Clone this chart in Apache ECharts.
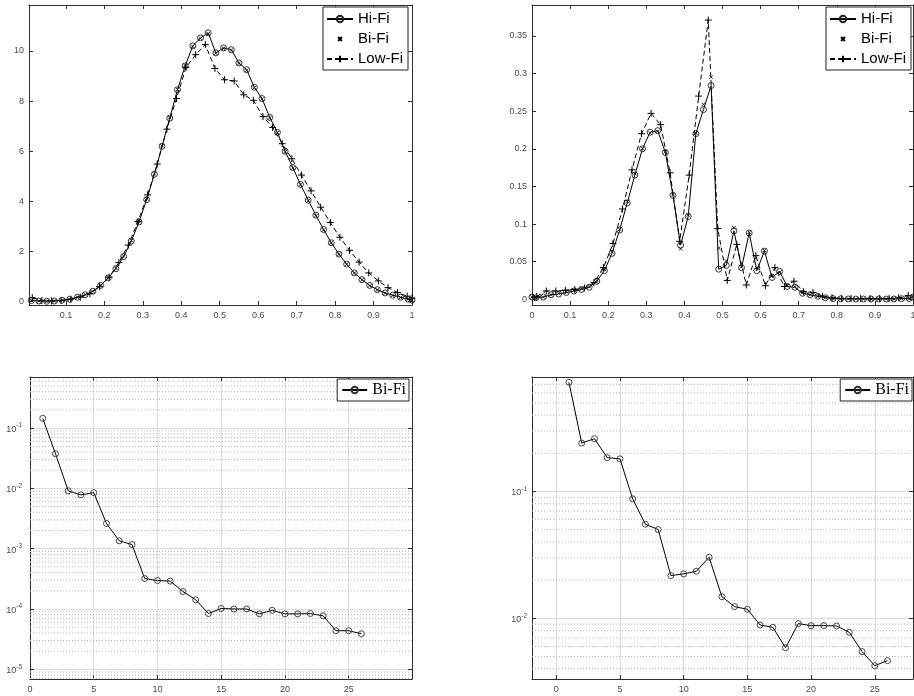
<!DOCTYPE html>
<html><head><meta charset="utf-8">
<script src="https://cdn.jsdelivr.net/npm/echarts@6/dist/echarts.min.js"></script>
<style>html,body{margin:0;padding:0;background:#fff}#c{width:914px;height:696px}</style>
</head><body><div id="c"></div>
<script>
// ---------- data: top-left panel ----------
const hiX_TL = [0.01,0.03,0.05,0.07,0.09,0.11,0.13,0.15,0.17,0.19,0.21,0.23,0.25,0.27,0.29,0.31,0.33,0.35,0.37,0.39,0.41,0.43,0.45,0.47,0.49,0.51,0.53,0.55,0.57,0.59,0.61,0.63,0.65,0.67,0.69,0.71,0.73,0.75,0.77,0.79,0.81,0.83,0.85,0.87,0.89,0.91,0.93,0.95,0.97,0.99,1.0];
const hiY_TL = [0.05,0.03,0.02,0.03,0.06,0.1,0.18,0.28,0.42,0.65,0.95,1.32,1.8,2.42,3.18,4.07,5.08,6.2,7.32,8.45,9.4,10.2,10.52,10.72,9.92,10.12,10.05,9.52,9.25,8.55,8.1,7.35,6.75,6.0,5.35,4.68,4.05,3.45,2.88,2.35,1.9,1.5,1.15,0.88,0.65,0.48,0.35,0.26,0.18,0.1,0.06];
const biY_TL = [0.05,0.03,0.02,0.03,0.06,0.1,0.18,0.28,0.42,0.66,0.96,1.33,1.82,2.44,3.2,4.1,5.1,6.22,7.34,8.47,9.42,10.18,10.5,10.68,9.9,10.1,10.03,9.5,9.22,8.53,8.08,7.33,6.73,5.98,5.33,4.66,4.03,3.43,2.86,2.34,1.89,1.49,1.14,0.87,0.64,0.47,0.34,0.25,0.17,0.1,0.06];
const lowX_TL = [0.0125,0.0375,0.0625,0.0875,0.1125,0.1375,0.1625,0.1875,0.2125,0.2375,0.2625,0.2875,0.3125,0.3375,0.3625,0.3875,0.4125,0.4375,0.4625,0.4875,0.5125,0.5375,0.5625,0.5875,0.6125,0.6375,0.6625,0.6875,0.7125,0.7375,0.7625,0.7875,0.8125,0.8375,0.8625,0.8875,0.9125,0.9375,0.9625,0.9875,1.0];
const lowY_TL = [0.16,0.05,0.03,0.05,0.1,0.18,0.32,0.6,0.98,1.56,2.26,3.2,4.26,5.49,6.88,8.1,9.35,9.85,10.25,9.3,8.85,8.8,8.25,8.03,7.38,6.95,6.3,5.7,5.05,4.42,3.77,3.16,2.57,2.05,1.58,1.15,0.83,0.56,0.37,0.22,0.15];

// ---------- data: top-right panel ----------
const hiX_TR = [0,0.01,0.03,0.05,0.07,0.09,0.11,0.13,0.15,0.17,0.19,0.21,0.23,0.25,0.27,0.29,0.31,0.33,0.35,0.37,0.39,0.41,0.43,0.45,0.47,0.49,0.51,0.53,0.55,0.57,0.59,0.61,0.63,0.65,0.67,0.69,0.71,0.73,0.75,0.77,0.79,0.81,0.83,0.85,0.87,0.89,0.91,0.93,0.95,0.97,0.99,1.0];
const hiY_TR = [0.003,0.002,0.003,0.006,0.007,0.009,0.011,0.013,0.016,0.024,0.038,0.061,0.092,0.128,0.165,0.2,0.222,0.224,0.195,0.138,0.072,0.11,0.22,0.252,0.284,0.04,0.045,0.091,0.042,0.088,0.038,0.064,0.029,0.037,0.017,0.016,0.008,0.006,0.004,0.002,0.001,0.0006,0.0004,0.0003,0.0003,0.0003,0.0003,0.0003,0.0004,0.0008,0.001,0.003];
const biY_TR = [0.003,0.002,0.003,0.006,0.008,0.01,0.012,0.014,0.017,0.025,0.04,0.063,0.093,0.13,0.167,0.2,0.221,0.223,0.196,0.139,0.067,0.112,0.221,0.259,0.295,0.068,0.051,0.095,0.043,0.089,0.042,0.065,0.031,0.036,0.018,0.017,0.009,0.006,0.004,0.002,0.001,0.0006,0.0004,0.0003,0.0003,0.0003,0.0003,0.0003,0.0004,0.0008,0.001,0.004];
const lowX_TR = [0.0125,0.0375,0.0625,0.0875,0.1125,0.1375,0.1625,0.1875,0.2125,0.2375,0.2625,0.2875,0.3125,0.3375,0.3625,0.3875,0.4125,0.4375,0.4625,0.4875,0.5125,0.5375,0.5625,0.5875,0.6125,0.6375,0.6625,0.6875,0.7125,0.7375,0.7625,0.7875,0.8125,0.8375,0.8625,0.8875,0.9125,0.9375,0.9625,0.9875];
const lowY_TR = [0.004,0.011,0.011,0.012,0.013,0.015,0.022,0.042,0.074,0.12,0.172,0.22,0.247,0.232,0.168,0.077,0.165,0.27,0.371,0.094,0.025,0.073,0.019,0.058,0.018,0.042,0.017,0.024,0.01,0.009,0.004,0.002,0.001,0.001,0.001,0.001,0.001,0.001,0.002,0.005];

// ---------- data: bottom panels ----------
const iterX = [1,2,3,4,5,6,7,8,9,10,11,12,13,14,15,16,17,18,19,20,21,22,23,24,25,26];
const errY_BL = [0.145,0.0375,0.0091,0.0078,0.0085,0.00262,0.00135,0.00117,0.00032,0.000296,0.00029,0.000195,0.000142,0.000084,0.000102,0.0001,0.0001,0.000083,0.000095,0.000083,0.000083,0.000084,0.000077,0.0000436,0.0000436,0.0000388];
const errY_BR = [0.727,0.241,0.261,0.185,0.181,0.0875,0.0552,0.0501,0.0217,0.0224,0.0235,0.0303,0.0148,0.01235,0.01178,0.00885,0.00849,0.00586,0.00908,0.00875,0.00875,0.0087,0.00775,0.00546,0.00423,0.00464];

// ---------- legend labels ----------
const legendTop = ['Hi-Fi','Bi-Fi','Low-Fi'];
const legendBottom = 'Bi-Fi';

function pairs(xs, ys){ return xs.map((x,i)=>[x, ys[i]]); }

const FONT = 'Liberation Sans';
const AX = '#2e2e2e';
const LBL = '#4a4a4a';
const SYM_CIRCLE = 'path://M0,5A5,5 0 1,1 10,5A5,5 0 1,1 0,5Z';
const SYM_CROSS = 'path://M0,0M10,10M2,2L8,8M8,2L2,8';
const SYM_PLUS = 'path://M5,0L5,10M0,5L10,5';

const grid = [
  {left:29, top:5, width:383, height:300},
  {left:532, top:5, width:381, height:300},
  {left:30, top:377, width:382, height:302},
  {left:532, top:377, width:381, height:302}
].map(g => Object.assign(g, {containLabel:false, outerBoundsMode:'none', show:false}));

const xAxis = [], yAxis = [];
function fmtStep(step){
  return v => { const r = Math.round(v/step); if (Math.abs(v/step - r) > 1e-6) return ''; return String(+(r*step).toFixed(4)); };
}
function fmtLog(v){
  const e = Math.log10(v); const r = Math.round(e);
  if (Math.abs(e - r) > 1e-6) return '';
  return '{b|10}{s|' + r + '}';
}
const gridLine = {show:true, lineStyle:{color:'#dcdcdc', width:1}};
function addAxes(list, dim, gi, cfg){
  const idx = list.length;
  const base = {
    type: cfg.type || 'value', gridIndex: gi, min: cfg.min, max: cfg.max,
    splitNumber: cfg.split, logBase: 10,
    axisLine: {show:true, onZero:false, lineStyle:{color:AX, width:1}},
    axisTick: {show:true, inside:true, length:4, lineStyle:{color:AX, width:1}},
    minorTick: {show:false}, minorSplitLine:{show:false},
    silent: true
  };
  const lbl = {show:true, color:LBL, fontFamily:FONT, fontSize:9, margin: cfg.margin,
               showMinLabel:true, showMaxLabel:true, formatter: cfg.fmt, hideOverlap:false,
               rich: {b:{fontSize:9, fontFamily:FONT, color:LBL, verticalAlign:'bottom'},
                      s:{fontSize:6.5, fontFamily:FONT, color:LBL, verticalAlign:'bottom', padding:[0,0,5,0]}}};
  list.push(Object.assign({}, base, {position: dim==='x'?'bottom':'left', axisLabel: lbl,
     splitLine: cfg.grid ? gridLine : {show:false}}));
  list.push(Object.assign({}, base, {position: dim==='x'?'top':'right', axisLabel:{show:false}, splitLine:{show:false}}));
  return idx;
}

const xTL = addAxes(xAxis,'x',0,{min:0.004,max:1,split:10,fmt:fmtStep(0.1),margin:6});
const yTL = addAxes(yAxis,'y',0,{min:-0.13,max:11.83,split:6,fmt:fmtStep(2),margin:5});
const xTR = addAxes(xAxis,'x',1,{min:0,max:1,split:10,fmt:fmtStep(0.1),margin:6});
const yTR = addAxes(yAxis,'y',1,{min:-0.0076,max:0.391,split:8,fmt:fmtStep(0.05),margin:5});
const xBL = addAxes(xAxis,'x',2,{min:0,max:29.97,split:6,fmt:fmtStep(5),margin:6,grid:true});
const yBL = addAxes(yAxis,'y',2,{type:'log',min:6.9e-6,max:0.703,fmt:fmtLog,margin:8,grid:true});
const xBR = addAxes(xAxis,'x',3,{min:-1.9,max:28,split:6,fmt:fmtStep(5),margin:6,grid:true});
const yBR = addAxes(yAxis,'y',3,{type:'log',min:0.00332,max:0.80,fmt:fmtLog,margin:5,grid:true});

// minor dotted grid at 2..9 x 10^k, drawn as broken line series through the axes
function minorGrid(xi, yi, x0, x1, lo, hi){
  const d = [];
  for (let e = Math.floor(Math.log10(lo)); e <= Math.ceil(Math.log10(hi)); e++)
    for (let m = 2; m <= 9; m++){
      const v = m*Math.pow(10,e);
      if (v > lo*1.01 && v < hi*0.99){ d.push([x0,v],[x1,v],[x0,'-']); }
    }
  return {type:'line', name:'minor'+xi, xAxisIndex:xi, yAxisIndex:yi, data:d, z:1, silent:true,
    animation:false, symbol:'none', connectNulls:false, clip:true,
    lineStyle:{type:[1,2], color:'#b4b4b4', width:1}};
}

const common = {animation:false, silent:true, showAllSymbol:true, clip:false};
function hiSeries(name, xi, yi, xs, ys){
  return Object.assign({}, common, {type:'line', name, xAxisIndex:xi, yAxisIndex:yi, data:pairs(xs,ys), z:3,
    symbol:SYM_CIRCLE, symbolSize:6,
    itemStyle:{color:'rgba(0,0,0,0)', borderColor:'#222', borderWidth:0.9},
    lineStyle:{color:'#000', width:1}});
}
function biSeries(name, xi, yi, xs, ys){
  return Object.assign({}, common, {type:'line', name, xAxisIndex:xi, yAxisIndex:yi, data:pairs(xs,ys), z:4,
    symbol:SYM_CROSS, symbolSize:6,
    itemStyle:{color:'#000', borderColor:'#000', borderWidth:0.8},
    lineStyle:{color:'#000', width:1, opacity:0}});
}
function lowSeries(name, xi, yi, xs, ys){
  return Object.assign({}, common, {type:'line', name, xAxisIndex:xi, yAxisIndex:yi, data:pairs(xs,ys), z:2,
    symbol:SYM_PLUS, symbolSize:7,
    itemStyle:{color:'#000', borderColor:'#000', borderWidth:1},
    lineStyle:{color:'#000', width:1, type:[5,3]}});
}
function errSeries(name, xi, yi, xs, ys){
  return Object.assign({}, common, {type:'line', name, xAxisIndex:xi, yAxisIndex:yi, data:pairs(xs,ys), z:3,
    symbol:SYM_CIRCLE, symbolSize:6,
    itemStyle:{color:'rgba(0,0,0,0)', borderColor:'#333', borderWidth:0.9},
    lineStyle:{color:'#000', width:1}});
}

const series = [
  lowSeries('Low-Fi', xTL, yTL, lowX_TL, lowY_TL),
  hiSeries('Hi-Fi', xTL, yTL, hiX_TL, hiY_TL),
  biSeries('Bi-Fi', xTL, yTL, hiX_TL, biY_TL),
  lowSeries('Low-Fi', xTR, yTR, lowX_TR, lowY_TR),
  hiSeries('Hi-Fi', xTR, yTR, hiX_TR, hiY_TR),
  biSeries('Bi-Fi', xTR, yTR, hiX_TR, biY_TR),
  minorGrid(xBL, yBL, 0, 29.97, 6.9e-6, 0.703),
  minorGrid(xBR, yBR, -1.9, 28, 0.00332, 0.80),
  errSeries('errBL', xBL, yBL, iterX, errY_BL),
  errSeries('errBR', xBR, yBR, iterX, errY_BR)
];

function topLegend(right){
  return {data:legendTop, orient:'vertical', right, top:7, itemWidth:26, itemHeight:8, itemGap:4,
    padding:[4,5,3,3], borderColor:'#222', borderWidth:1, backgroundColor:'#fff', selectedMode:false,
    textStyle:{fontFamily:FONT, fontSize:15, color:'#000', lineHeight:16}, z:10};
}
function bottomLegend(name, right){
  return {data:[name], orient:'vertical', right, top:379, itemWidth:25, itemHeight:8,
    padding:[2,3,2,4], borderColor:'#222', borderWidth:1, backgroundColor:'#fff', selectedMode:false,
    formatter: () => legendBottom,
    textStyle:{fontFamily:'Liberation Serif', fontSize:16, color:'#000', lineHeight:18}, z:10};
}

const option = {
  animation:false,
  backgroundColor:'#fff',
  textStyle:{fontFamily:FONT},
  grid, xAxis, yAxis, series,
  legend:[topLegend(506), topLegend(3), bottomLegend('errBL', 505), bottomLegend('errBR', 2)]
};
const chart = echarts.init(document.getElementById('c'), null, {renderer:'canvas'});
chart.setOption(option);
</script></body></html>
